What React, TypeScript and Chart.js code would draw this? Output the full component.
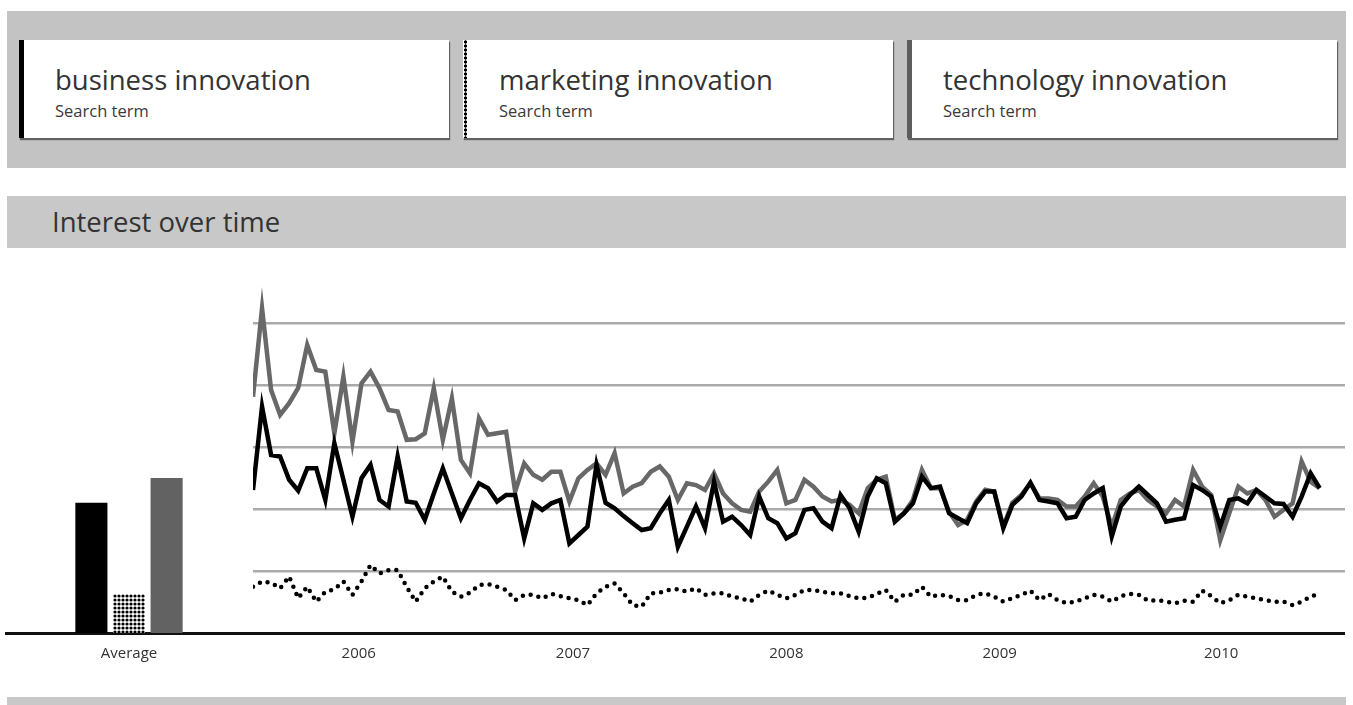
import React, { useEffect, useRef } from "react";
import { Chart, registerables } from "chart.js";

Chart.register(...registerables);

const seriesNames = ["business innovation", "marketing innovation", "technology innovation"];
const averageLabel = ["Average"];
const averageValues = [42, 12.6, 50];
const yearLabels = ["2006", "2007", "2008", "2009", "2010"];
const yearTickPositions = [11.7, 35.4, 59.0, 82.6, 107.1];

const businessValues = [
  46.1, 73, 57.4, 56.9, 49.4, 45.9, 53.1, 53.1, 42.9, 61.2,
  49.4, 37.5, 49.9, 54.2, 42.9, 40.8, 56.9, 42.4, 42, 36.5,
  45, 53.1, 45, 37, 42.9, 48.3, 46.7, 42.4, 44.5, 44.5,
  30.5, 41.8, 39.7, 41.8, 42.9, 28.9, 31.6, 34.3, 54.2, 42,
  40.2, 37.7, 35.4, 33.2, 33.8, 38.6, 42.9, 27.8, 34.3, 40.8,
  33.8, 48.8, 35.9, 37.5, 34.8, 31.6, 44, 37, 35.4, 30.5,
  32.2, 39.7, 40.2, 35.9, 33.8, 44.5, 40.2, 32.7, 44, 49.9,
  48.3, 35.9, 38.6, 41.8, 50.4, 46.7, 47.2, 38.6, 37, 35.4,
  41.8, 45.6, 45.6, 33.8, 41.3, 44, 48.5, 42.9, 42.4, 41.8,
  37, 37.5, 42.9, 45, 46.7, 31.1, 40.8, 44.5, 47.2, 44.5,
  41.8, 35.9, 36.5, 37, 47.7, 46.1, 44, 34.3, 42.9, 43.4,
  41.8, 46.1, 44, 41.8, 41.6, 37.5, 44, 51.5, 46.7,
];

const technologyValues = [
  76.2, 104.7, 78.4, 70.3, 74.1, 79, 92.9, 84.8, 84.3, 64.4,
  82.7, 61.7, 80.5, 84.3, 78.9, 71.9, 71.4, 62.3, 62.5, 64.4,
  78.9, 62.3, 75.7, 55.8, 51.5, 69.2, 63.9, 64.4, 64.9, 45.6,
  54.7, 51, 49.4, 52, 52, 42.4, 49.9, 52.6, 54.7, 51,
  58, 45, 47.2, 48.3, 52, 53.7, 50.4, 42.9, 48.3, 47.7,
  46.1, 51.5, 45, 41.8, 39.7, 39.1, 45.6, 48.8, 52.6, 41.8,
  42.9, 49.4, 47.2, 44, 42.4, 42.9, 41.3, 38.6, 46.7, 49.4,
  50.4, 36.5, 38.6, 42.9, 52.6, 46.7, 46.7, 39.1, 34.8, 36.5,
  42.4, 46.2, 45.6, 34.3, 42, 44.5, 48.3, 43.4, 43.4, 42.9,
  40.8, 40.8, 44, 48.3, 44, 34.3, 42.9, 45, 46.1, 42.9,
  40.8, 38.6, 42.9, 40.8, 52.6, 47.2, 44.5, 29.9, 38.6, 47.2,
  45, 46.1, 42.9, 37.5, 39.7, 41.8, 55.3, 48.8, 46.7,
];

const marketingValues = [
  14.9, 16.6, 16.2, 14.4, 18.2, 11.2, 14.9, 10.1, 13.3, 14.1,
  16.6, 12.3, 16.6, 21.9, 19.2, 20.3, 20.3, 14.9, 10.1, 14.4,
  16.6, 18.2, 13.3, 11.7, 13, 15.5, 15.8, 14.9, 13.9, 10.6,
  12.3, 12.3, 11.2, 12.6, 11.9, 11.2, 10.6, 9, 12.8, 14.9,
  16, 12.8, 9, 8.5, 12.8, 13, 13.9, 14.1, 13.3, 14.4,
  12.3, 12.8, 12.8, 11.7, 11.2, 10.1, 12.3, 13.7, 12.3, 11.2,
  12.3, 13.9, 13.9, 13.3, 12.8, 12.8, 11.9, 11.2, 11.4, 12.6,
  13.9, 10.1, 12.3, 12.3, 14.9, 11.7, 12.3, 11.9, 10.6, 10.6,
  12.3, 12.8, 11.7, 10.1, 11.2, 12.3, 13.7, 10.6, 12.6, 10.6,
  9.6, 10.1, 11.2, 12.3, 11.7, 10.1, 11.9, 12.6, 12.3, 10.4,
  10.6, 10.1, 9.6, 10.4, 10.1, 13.7, 11.9, 9.6, 10.6, 12.3,
  11.7, 11.2, 10.6, 10.1, 10.1, 9, 10.1, 11.7, 12.8,
];

const Y_MAX = 123.5;
const FONT = "'Open Sans', sans-serif";

function makeDotPattern(): CanvasPattern | string {
  const pc = document.createElement("canvas");
  pc.width = 4;
  pc.height = 4;
  const c = pc.getContext("2d");
  if (!c) return "#000";
  c.fillStyle = "#fff";
  c.fillRect(0, 0, 4, 4);
  c.fillStyle = "#000";
  c.beginPath();
  c.arc(2, 2, 1.6, 0, Math.PI * 2);
  c.fill();
  const p = c.createPattern(pc, "repeat");
  return p || "#000";
}

export default function App() {
  const barRef = useRef<HTMLCanvasElement | null>(null);
  const lineRef = useRef<HTMLCanvasElement | null>(null);

  useEffect(() => {
    Chart.defaults.font.family = FONT;
    const pattern = makeDotPattern();
    const axisBorder = { display: true, color: "#111", width: 3 };

    const barChart = new Chart(barRef.current as HTMLCanvasElement, {
      type: "bar",
      data: {
        labels: averageLabel,
        datasets: [
          { label: seriesNames[0], data: [averageValues[0]], backgroundColor: "#000" },
          { label: seriesNames[1], data: [averageValues[1]], backgroundColor: pattern as any },
          { label: seriesNames[2], data: [averageValues[2]], backgroundColor: "#626262" },
        ],
      },
      options: {
        animation: false,
        responsive: false,
        barPercentage: 0.853,
        categoryPercentage: 0.455,
        layout: { padding: 0 },
        plugins: { legend: { display: false }, tooltip: { enabled: false } },
        scales: {
          x: {
            grid: { display: false },
            border: axisBorder,
            afterFit: (s: any) => { s.height = 47; },
            ticks: { color: "#333", font: { size: 15 }, padding: 4 },
          },
          y: { min: 0, max: Y_MAX, display: false },
        },
      } as any,
    });

    const toPts = (arr: number[]) => arr.map((v, i) => ({ x: i, y: v }));

    const lineChart = new Chart(lineRef.current as HTMLCanvasElement, {
      type: "line",
      data: {
        datasets: [
          {
            label: seriesNames[0],
            data: toPts(businessValues),
            borderColor: "#000",
            borderWidth: 4.5,
            pointRadius: 0,
            tension: 0,
          },
          {
            label: seriesNames[2],
            data: toPts(technologyValues),
            borderColor: "#686868",
            borderWidth: 4.5,
            pointRadius: 0,
            tension: 0,
          },
          {
            label: seriesNames[1],
            data: toPts(marketingValues),
            borderColor: "#000",
            borderWidth: 4.5,
            borderDash: [0, 8],
            borderCapStyle: "round",
            pointRadius: 0,
            tension: 0,
          },
        ],
      },
      options: {
        animation: false,
        responsive: false,
        layout: { padding: 0 },
        plugins: { legend: { display: false }, tooltip: { enabled: false } },
        scales: {
          x: {
            type: "linear",
            min: 0,
            max: 120.8,
            grid: { display: false },
            border: axisBorder,
            afterBuildTicks: (s: any) => {
              s.ticks = yearTickPositions.map((v) => ({ value: v }));
            },
            afterFit: (s: any) => { s.height = 47; },
            ticks: {
              autoSkip: false,
              maxRotation: 0,
              color: "#333",
              font: { size: 15 },
              padding: 4,
              callback: (_v: any, i: number) => yearLabels[i],
            },
          },
          y: {
            min: 0,
            max: Y_MAX,
            afterFit: (s: any) => { s.width = 0; },
            ticks: { display: false, stepSize: 20 },
            border: { display: false },
            grid: {
              drawTicks: false,
              lineWidth: 2.5,
              color: (c: any) => {
                const v = c.tick ? c.tick.value : 0;
                return v >= 20 && v <= 100 ? "#aaaaaa" : "rgba(0,0,0,0)";
              },
            },
          },
        },
      } as any,
    });

    return () => {
      barChart.destroy();
      lineChart.destroy();
    };
  }, []);

  const card = (left: number, title: string, border: React.CSSProperties) => (
    <div
      style={{
        position: "absolute",
        left,
        top: 40,
        width: 430,
        height: 98,
        background: "#fff",
        boxShadow: "1px 2px 1px rgba(0,0,0,0.5)",
      }}
    >
      <div style={{ position: "absolute", left: 0, top: 0, width: 5, height: 98, ...border }} />
      <div
        style={{
          position: "absolute",
          left: 36,
          top: 26,
          fontSize: 27.5,
          lineHeight: 1,
          color: "#333",
          whiteSpace: "nowrap",
        }}
      >
        {title}
      </div>
      <div
        style={{
          position: "absolute",
          left: 36,
          top: 63,
          fontSize: 16.5,
          fontWeight: 500,
          lineHeight: 1,
          color: "#3a3a3a",
          whiteSpace: "nowrap",
        }}
      >
        Search term
      </div>
    </div>
  );

  return (
    <div
      style={{
        position: "absolute",
        left: 0,
        top: 0,
        width: 1353,
        height: 705,
        background: "#fff",
        fontFamily: FONT,
        overflow: "hidden",
      }}
    >
      <div style={{ position: "absolute", left: 7, top: 11, width: 1339, height: 157, background: "#c3c3c3" }} />
      {card(19, seriesNames[0], { background: "#000" })}
      {card(463, seriesNames[1], {
        backgroundImage: "radial-gradient(circle, #000 1.4px, rgba(0,0,0,0) 1.9px)",
        backgroundSize: "5px 4px",
        backgroundColor: "#fff",
      })}
      {card(907, seriesNames[2], { background: "#5e5e5e" })}

      <div style={{ position: "absolute", left: 7, top: 196, width: 1339, height: 52, background: "#c8c8c8" }}>
        <div
          style={{
            position: "absolute",
            left: 45,
            top: 12,
            fontSize: 27.5,
            lineHeight: 1,
            color: "#333",
            whiteSpace: "nowrap",
          }}
        >
          Interest over time
        </div>
      </div>

      <canvas
        ref={barRef}
        width={248}
        height={430}
        style={{ position: "absolute", left: 5, top: 250, width: 248, height: 430 }}
      />
      <canvas
        ref={lineRef}
        width={1092}
        height={430}
        style={{ position: "absolute", left: 253, top: 250, width: 1092, height: 430 }}
      />

      <div style={{ position: "absolute", left: 7, top: 697, width: 1339, height: 8, background: "#c8c8c8" }} />
    </div>
  );
}
